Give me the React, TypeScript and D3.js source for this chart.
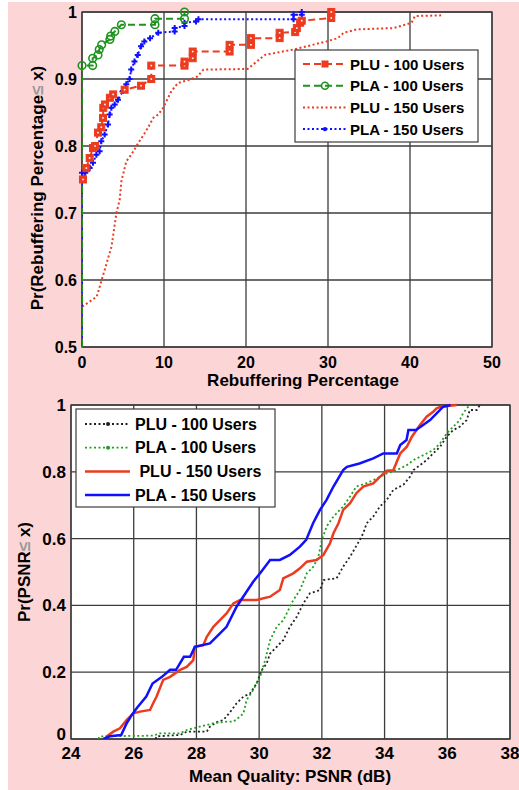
import React from 'react';
import * as d3 from 'd3';

type Pt = [number, number];

// top chart: CDF of rebuffering percentage
const topXTicks = [0, 10, 20, 30, 40, 50];
const topYTicks = [0.5, 0.6, 0.7, 0.8, 0.9, 1];
const topYLabels = ['0.5', '0.6', '0.7', '0.8', '0.9', '1'];

const pluTop100: Pt[] = [[0.12, 0.75], [0.53, 0.767], [0.93, 0.782], [1.34, 0.797], [1.6, 0.8], [1.95, 0.82], [2.35, 0.828], [2.56, 0.842], [2.6, 0.857], [2.8, 0.862], [3.4, 0.872], [3.8, 0.877], [5.2, 0.884], [7.2, 0.89], [8.45, 0.9], [8.45, 0.92], [12.5, 0.92], [12.5, 0.926], [13.5, 0.931], [13.5, 0.941], [18, 0.941], [18, 0.951], [20.6, 0.951], [20.6, 0.961], [24.1, 0.961], [24.1, 0.969], [26, 0.97], [26.2, 0.976], [26.6, 0.984], [26.8, 0.987], [30.4, 0.991], [30.4, 1.0]];
const plaTop100: Pt[] = [[0, 0.5], [0, 0.92], [1.3, 0.92], [1.3, 0.931], [1.95, 0.936], [2.1, 0.944], [2.4, 0.951], [3.4, 0.959], [3.5, 0.964], [4.0, 0.971], [4.8, 0.981], [8.9, 0.981], [8.9, 0.99], [12.5, 0.99], [12.5, 1.0]];
const pluTop150: Pt[] = [[0, 0.5], [0, 0.56], [1.8, 0.575], [2.4, 0.6], [3.0, 0.625], [3.6, 0.65], [4.2, 0.7], [4.6, 0.72], [4.8, 0.747], [5.4, 0.777], [6.0, 0.787], [7.0, 0.807], [7.8, 0.822], [8.7, 0.842], [9.3, 0.847], [9.9, 0.857], [10.3, 0.867], [10.9, 0.882], [11.7, 0.894], [13.1, 0.899], [14.1, 0.904], [14.8, 0.914], [20.2, 0.915], [20.9, 0.922], [22.3, 0.936], [25.8, 0.944], [29.8, 0.956], [31.2, 0.961], [31.9, 0.969], [33.5, 0.974], [38, 0.976], [40.2, 0.984], [40.6, 0.994], [43.8, 0.995]];
const plaTop150: Pt[] = [[0, 0.5], [0, 0.76], [0.4, 0.76], [0.93, 0.767], [1.34, 0.775], [1.75, 0.787], [2.15, 0.792], [2.35, 0.807], [2.76, 0.817], [3.17, 0.832], [3.37, 0.847], [3.58, 0.857], [3.99, 0.862], [4.39, 0.869], [5.0, 0.882], [5.4, 0.892], [5.8, 0.9], [6.0, 0.914], [6.4, 0.926], [6.8, 0.936], [7.2, 0.949], [7.6, 0.956], [8.3, 0.961], [9.3, 0.969], [11.3, 0.971], [11.3, 0.976], [12.5, 0.979], [12.5, 0.984], [13.9, 0.986], [14.2, 0.989], [25.8, 0.989], [25.8, 0.996], [26.8, 0.996], [26.8, 1.0]];

// bottom chart: CDF of PSNR
const botXTicks = [24, 26, 28, 30, 32, 34, 36, 38];
const botYTicks = [0, 0.2, 0.4, 0.6, 0.8, 1];
const botYLabels = ['0', '0.2', '0.4', '0.6', '0.8', '1'];

const plu100: Pt[] = [[26.7, 0], [26.73, 0.008], [27.48, 0.012], [27.69, 0.022], [28.33, 0.022], [28.43, 0.037], [28.64, 0.05], [28.86, 0.057], [29.07, 0.08], [29.28, 0.107], [29.5, 0.127], [29.71, 0.136], [29.92, 0.166], [30.08, 0.206], [30.24, 0.226], [30.35, 0.256], [30.56, 0.276], [30.77, 0.296], [30.98, 0.336], [31.2, 0.366], [31.41, 0.406], [31.62, 0.436], [31.94, 0.446], [32.05, 0.476], [32.47, 0.481], [32.68, 0.516], [32.9, 0.546], [33.21, 0.596], [33.32, 0.616], [33.43, 0.646], [33.64, 0.666], [33.85, 0.696], [34.07, 0.716], [34.28, 0.746], [34.6, 0.761], [34.81, 0.785], [34.92, 0.805], [35.13, 0.82], [35.34, 0.835], [35.55, 0.855], [35.77, 0.875], [35.98, 0.905], [36.19, 0.925], [36.4, 0.935], [36.62, 0.955], [36.72, 0.985], [36.94, 0.985], [37.04, 1]];
const pla100: Pt[] = [[24.87, 0], [24.92, 0.008], [26.62, 0.01], [26.84, 0.017], [27.48, 0.017], [27.69, 0.027], [28.11, 0.037], [28.54, 0.047], [28.96, 0.052], [29.18, 0.052], [29.39, 0.067], [29.5, 0.077], [29.6, 0.117], [29.81, 0.147], [30.03, 0.186], [30.19, 0.236], [30.35, 0.296], [30.56, 0.336], [30.77, 0.356], [30.88, 0.376], [31.09, 0.416], [31.3, 0.446], [31.52, 0.496], [31.73, 0.516], [31.89, 0.546], [32.0, 0.596], [32.15, 0.636], [32.37, 0.666], [32.68, 0.696], [32.9, 0.726], [33.1, 0.756], [33.43, 0.766], [33.75, 0.78], [34.07, 0.795], [34.39, 0.805], [34.71, 0.82], [34.92, 0.835], [35.24, 0.85], [35.55, 0.865], [35.77, 0.885], [35.98, 0.915], [36.19, 0.935], [36.4, 0.955], [36.5, 0.975], [36.67, 0.995], [36.75, 1]];
const plu150: Pt[] = [[25.1, 0], [25.14, 0.008], [25.35, 0.022], [25.56, 0.032], [25.78, 0.057], [25.99, 0.077], [26.2, 0.082], [26.52, 0.087], [26.62, 0.107], [26.73, 0.127], [26.94, 0.177], [27.16, 0.186], [27.48, 0.207], [27.69, 0.216], [27.9, 0.236], [27.95, 0.276], [28.22, 0.281], [28.33, 0.306], [28.54, 0.336], [28.75, 0.356], [28.96, 0.376], [29.18, 0.406], [29.39, 0.416], [29.92, 0.416], [30.35, 0.426], [30.66, 0.446], [30.77, 0.481], [30.88, 0.486], [31.09, 0.496], [31.3, 0.511], [31.52, 0.531], [31.83, 0.536], [32.05, 0.551], [32.26, 0.586], [32.37, 0.616], [32.53, 0.646], [32.68, 0.686], [32.9, 0.706], [33.1, 0.736], [33.32, 0.756], [33.64, 0.765], [33.85, 0.785], [34.07, 0.803], [34.28, 0.805], [34.39, 0.83], [34.5, 0.855], [34.71, 0.875], [34.87, 0.905], [35.02, 0.925], [35.13, 0.94], [35.34, 0.965], [35.55, 0.98], [35.66, 0.99], [35.8, 0.995], [36.3, 1]];
const pla150: Pt[] = [[25.03, 0], [25.24, 0.008], [25.6, 0.012], [25.78, 0.048], [25.94, 0.072], [26.1, 0.093], [26.4, 0.127], [26.6, 0.166], [26.9, 0.186], [27.16, 0.207], [27.35, 0.207], [27.6, 0.246], [27.8, 0.246], [27.95, 0.276], [28.43, 0.286], [28.96, 0.336], [29.28, 0.396], [29.81, 0.471], [30.03, 0.496], [30.35, 0.536], [30.66, 0.536], [30.98, 0.551], [31.3, 0.576], [31.5, 0.596], [31.72, 0.646], [31.94, 0.686], [32.15, 0.716], [32.37, 0.756], [32.68, 0.805], [32.8, 0.815], [33.2, 0.825], [33.64, 0.84], [33.96, 0.855], [34.39, 0.855], [34.5, 0.88], [34.7, 0.895], [34.76, 0.925], [35.0, 0.925], [35.23, 0.94], [35.45, 0.955], [35.66, 0.975], [35.87, 0.995], [36.1, 1]];

const RED = '#ec3b1f';
const GREEN = '#1f931f';
const BLUE = '#1010ff';
const GRID = '#3c3c3c';
const FONT = 'Liberation Sans, Arial, sans-serif';

const App = () => {
  const tx = d3.scaleLinear().domain([0, 50]).range([82, 492]);
  const ty = d3.scaleLinear().domain([0.5, 1]).range([347, 12]);
  const bx = d3.scaleLinear().domain([24, 38]).range([71, 510]);
  const by = d3.scaleLinear().domain([0, 1]).range([739, 405]);

  const topLine = d3.line<Pt>().x(d => tx(d[0])).y(d => ty(d[1]));
  const botLine = d3.line<Pt>().x(d => bx(d[0])).y(d => by(d[1]));

  const marks = (pts: Pt[]) => pts.filter(d => d[1] > 0.5);

  const topLegend = [
    { label: 'PLU - 100 Users', color: RED, dash: '7,4', marker: 'square' },
    { label: 'PLA - 100 Users', color: GREEN, dash: '7,4', marker: 'circle' },
    { label: 'PLU - 150 Users', color: RED, dash: '2,2.5', marker: '' },
    { label: 'PLA - 150 Users', color: BLUE, dash: '2,2.5', marker: 'plus' },
  ];
  const botLegend = [
    { label: 'PLU - 100 Users', color: '#222', dash: '2,2.5', w: 1.8, dot: true },
    { label: 'PLA - 100 Users', color: '#22a022', dash: '2,2.5', w: 1.8, dot: true },
    { label: ' PLU - 150 Users', color: RED, dash: '', w: 2.5, dot: false },
    { label: 'PLA - 150 Users', color: BLUE, dash: '', w: 2.5, dot: false },
  ];

  return (
    <svg width={519} height={790} style={{ position: 'absolute', left: 0, top: 0 }} fontFamily={FONT} fontWeight="bold">
      <defs>
        <clipPath id="topClip"><rect x={82} y={10} width={410} height={337} /></clipPath>
        <clipPath id="botClip"><rect x={71} y={403} width={439} height={336} /></clipPath>
      </defs>
      <rect x={8} y={2} width={511} height={788} fill="#fcd6d6" />

      {/* ---- top chart ---- */}
      <rect x={82} y={12} width={410} height={335} fill="#fff" />
      {topXTicks.map(t => (
        <line key={'tgx' + t} x1={tx(t)} x2={tx(t)} y1={12} y2={347} stroke={GRID} strokeWidth={1.3} />
      ))}
      {topYTicks.map(t => (
        <line key={'tgy' + t} x1={82} x2={492} y1={ty(t)} y2={ty(t)} stroke={GRID} strokeWidth={1.3} />
      ))}
      <rect x={82} y={12} width={410} height={335} fill="none" stroke={GRID} strokeWidth={1.3} />
      <g clipPath="url(#topClip)" fill="none">
        <path d={topLine(pluTop150) || ''} stroke={RED} strokeWidth={2} strokeDasharray="2,2.5" />
        <path d={topLine(plaTop150) || ''} stroke={BLUE} strokeWidth={2} strokeDasharray="2,2.5" />
        <path d={topLine(pluTop100) || ''} stroke={RED} strokeWidth={2} strokeDasharray="7,4" />
        <path d={topLine(plaTop100) || ''} stroke={GREEN} strokeWidth={2} strokeDasharray="7,4" />
      </g>
      {marks(plaTop150).map((d, i) => (
        <path key={'pb' + i} d={`M${tx(d[0]) - 3},${ty(d[1])}h6M${tx(d[0])},${ty(d[1]) - 3}v6`} stroke={BLUE} strokeWidth={2} />
      ))}
      {pluTop100.map((d, i) => (
        <g key={'sq' + i}>
          <rect x={tx(d[0]) - 3.5} y={ty(d[1]) - 3.5} width={7} height={7} fill={RED} stroke={RED} strokeWidth={1} />
          <rect x={tx(d[0]) - 0.8} y={ty(d[1]) - 0.8} width={1.6} height={1.6} fill="#fff" />
        </g>
      ))}
      {marks(plaTop100).map((d, i) => (
        <circle key={'ci' + i} cx={tx(d[0])} cy={ty(d[1])} r={3.8} fill="none" stroke={GREEN} strokeWidth={1.6} />
      ))}
      {topXTicks.map(t => (
        <text key={'tlx' + t} x={tx(t)} y={368} textAnchor="middle" fontSize={16}>{t}</text>
      ))}
      {topYTicks.map((t, i) => (
        <text key={'tly' + t} x={77} y={ty(t) + 6} textAnchor="end" fontSize={16}>{topYLabels[i]}</text>
      ))}
      <text x={303} y={386} textAnchor="middle" fontSize={17}>Rebuffering Percentage</text>
      <text transform="translate(43,188) rotate(-90)" textAnchor="middle" fontSize={17}>
        Pr(Rebuffering Percentage<tspan fill="#999">≤</tspan> x)
      </text>

      <rect x={295} y={50} width={183} height={92} fill="#fff" stroke={GRID} strokeWidth={1.2} />
      {topLegend.map((e, i) => {
        const y = 64 + i * 21.7;
        return (
          <g key={'tleg' + i}>
            <line x1={303} x2={347} y1={y} y2={y} stroke={e.color} strokeWidth={2} strokeDasharray={e.dash} />
            {e.marker === 'square' && <rect x={321.5} y={y - 3.5} width={7} height={7} fill={e.color} />}
            {e.marker === 'circle' && <circle cx={325} cy={y} r={3.5} fill="none" stroke={e.color} strokeWidth={1.6} />}
            {e.marker === 'plus' && <circle cx={325} cy={y} r={2.2} fill={e.color} />}
            <text x={350} y={y + 5.5} fontSize={15}>{e.label}</text>
          </g>
        );
      })}

      {/* ---- bottom chart ---- */}
      <rect x={71} y={405} width={439} height={334} fill="#fff" />
      {botXTicks.map(t => (
        <line key={'bgx' + t} x1={bx(t)} x2={bx(t)} y1={405} y2={739} stroke={GRID} strokeWidth={1.3} />
      ))}
      {botYTicks.map(t => (
        <line key={'bgy' + t} x1={71} x2={510} y1={by(t)} y2={by(t)} stroke={GRID} strokeWidth={1.3} />
      ))}
      <rect x={71} y={405} width={439} height={334} fill="none" stroke={GRID} strokeWidth={1.3} />
      <g clipPath="url(#botClip)" fill="none">
        <path d={botLine(plu100) || ''} stroke="#222" strokeWidth={1.8} strokeDasharray="2,2.5" />
        <path d={botLine(pla100) || ''} stroke="#22a022" strokeWidth={1.8} strokeDasharray="2,2.5" />
        <path d={botLine(plu150) || ''} stroke={RED} strokeWidth={2.5} />
        <path d={botLine(pla150) || ''} stroke={BLUE} strokeWidth={2.5} />
      </g>
      {botXTicks.map(t => (
        <text key={'blx' + t} x={bx(t)} y={759} textAnchor="middle" fontSize={17}>{t}</text>
      ))}
      {botYTicks.map((t, i) => (
        <text key={'bly' + t} x={66} y={by(t) + (t === 0 ? 1 : 6)} textAnchor="end" fontSize={17}>{botYLabels[i]}</text>
      ))}
      <text x={290} y={782} textAnchor="middle" fontSize={17}>Mean Quality: PSNR (dB)</text>
      <text transform="translate(30,572) rotate(-90)" textAnchor="middle" fontSize={17}>
        Pr(PSNR<tspan fill="#999">≤</tspan> x)
      </text>

      <rect x={76} y={409} width={199} height={98} fill="#fff" stroke={GRID} strokeWidth={1.2} />
      {botLegend.map((e, i) => {
        const y = 424 + i * 23.7;
        return (
          <g key={'bleg' + i}>
            <line x1={85} x2={130} y1={y} y2={y} stroke={e.color} strokeWidth={e.w} strokeDasharray={e.dash || undefined} />
            {e.dot && <circle cx={108} cy={y} r={2} fill={e.color} />}
            <text x={135} y={y + 5.5} fontSize={16} style={{ whiteSpace: 'pre' }}>{e.label}</text>
          </g>
        );
      })}
    </svg>
  );
};

export default App;
